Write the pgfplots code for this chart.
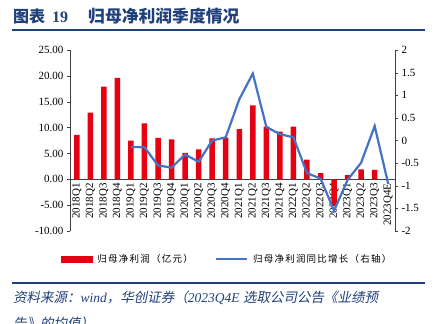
\documentclass[border=0pt]{standalone}
\usepackage{pgfplots}
\pgfplotsset{compat=1.18}
\usepackage{fontspec}
\setmainfont{Liberation Serif}
\newfontfamily\cjk{Noto Sans CJK SC}
\newfontfamily\cjkls{Noto Sans CJK SC}[LetterSpace=13]
\newfontfamily\cjkit{Noto Sans CJK SC}[FakeSlant=0.2]
\definecolor{barred}{RGB}{230,0,18}
\definecolor{lineblue}{RGB}{68,114,196}
\definecolor{navy}{RGB}{31,64,122}
\begin{document}
\begin{tikzpicture}
\path[use as bounding box] (0pt,0pt) rectangle (437pt,-324pt);
\node[anchor=base west, inner sep=0, text=navy, font=\fontsize{16}{16}\selectfont] at (13pt,-22pt) {{\cjk\bfseries 图表}\hspace{7pt}{\bfseries 19}};
\node[anchor=base west, inner sep=0, text=navy, font=\fontsize{16.8}{16.8}\selectfont\cjk\bfseries] at (88pt,-22pt) {归母净利润季度情况};
\draw[navy, line width=1.2pt] (12pt,-30pt) -- (425pt,-30pt);
\begin{axis}[
  at={(70pt,-231pt)}, anchor=south west, scale only axis,
  width=325pt, height=181pt,
  xmin=-0.5, xmax=23.5, ymin=-10, ymax=25,
  axis y line*=left, axis x line*=middle,
  axis line style={-, black!75},
  ytick={-10,-5,0,5,10,15,20,25},
  yticklabel style={/pgf/number format/fixed, /pgf/number format/fixed zerofill, /pgf/number format/precision=2},
  /pgf/number format/assume math mode=true,
  xtick={0,...,23},
  xticklabels={2018Q1,2018Q2,2018Q3,2018Q4,2019Q1,2019Q2,2019Q3,2019Q4,2020Q1,2020Q2,2020Q3,2020Q4,2021Q1,2021Q2,2021Q3,2021Q4,2022Q1,2022Q2,2022Q3,2022Q4,2023Q1,2023Q2,2023Q3,2023Q4E},
  x tick label style={rotate=90, anchor=east, inner sep=1pt},
  tick label style={font=\fontsize{11}{11}\selectfont},
  major tick length=3pt, tick align=outside,
  xtick style={draw=none},
  ytick style={black!75},
  hide obscured x ticks=false, hide obscured y ticks=false,
]
\addplot[ybar, bar width=5.5pt, fill=barred, draw=none] coordinates {
(0,8.6) (1,12.9) (2,17.9) (3,19.6) (4,7.5) (5,10.8) (6,8.0) (7,7.7)
(8,5.1) (9,5.8) (10,7.9) (11,8.05) (12,9.7) (13,14.3) (14,10.2) (15,9.2)
(16,10.2) (17,3.8) (18,1.2) (19,-5.2) (20,0.8) (21,1.9) (22,1.8)
};
\end{axis}
\begin{axis}[
  at={(70pt,-231pt)}, anchor=south west, scale only axis,
  width=325pt, height=181pt,
  xmin=-0.5, xmax=23.5, ymin=-2, ymax=2,
  axis y line*=right, axis x line=none,
  axis line style={-, black!75},
  ytick={-2,-1.5,-1,-0.5,0,0.5,1,1.5,2},
  /pgf/number format/assume math mode=true,
  tick label style={font=\fontsize{11}{11}\selectfont},
  major tick length=3pt, tick align=outside,
  ytick style={black!75},
  legend columns=2,
  legend style={draw=none, fill=none, at={(-0.028,-0.155)}, anchor=west, inner sep=0pt,
    font=\fontsize{9.5}{9.5}\selectfont\cjkls, nodes={inner sep=0pt},
    /tikz/every odd column/.append style={column sep=5pt},
    /tikz/every even column/.append style={column sep=22pt}},
]
\addlegendimage{legend image code/.code={\fill[barred] (0pt,-3pt) rectangle (31pt,3pt);}}
\addlegendentry{归母净利润（亿元）}
\addplot[lineblue, line width=2.2pt, legend image code/.code={\draw[lineblue, line width=2.2pt] (0pt,0pt) -- (31pt,0pt);}] coordinates {
(4,-0.14) (5,-0.15) (6,-0.55) (7,-0.60) (8,-0.31) (9,-0.47) (10,0.0) (11,0.07)
(12,0.91) (13,1.48) (14,0.30) (15,0.14) (16,0.07) (17,-0.72) (18,-0.84) (19,-1.55)
(20,-0.87) (21,-0.49) (22,0.32) (23,-0.96)
};
\addlegendentry{归母净利润同比增长（右轴）}
\end{axis}
\draw[navy, line width=1.2pt] (12pt,-283pt) -- (425pt,-283pt);
\node[anchor=base west, inner sep=0, text=navy, font=\fontsize{13.5}{13.5}\selectfont] at (13pt,-302pt) {{\cjkit 资料来源：}{\itshape wind}{\cjkit ，华创证券（}{\itshape 2023Q4E }{\cjkit 选取公司公告《业绩预}};
\node[anchor=base west, inner sep=0, text=navy, font=\fontsize{13.5}{13.5}\selectfont] at (13pt,-328pt) {{\cjkit 告》的均值）}};
\end{tikzpicture}
\end{document}
